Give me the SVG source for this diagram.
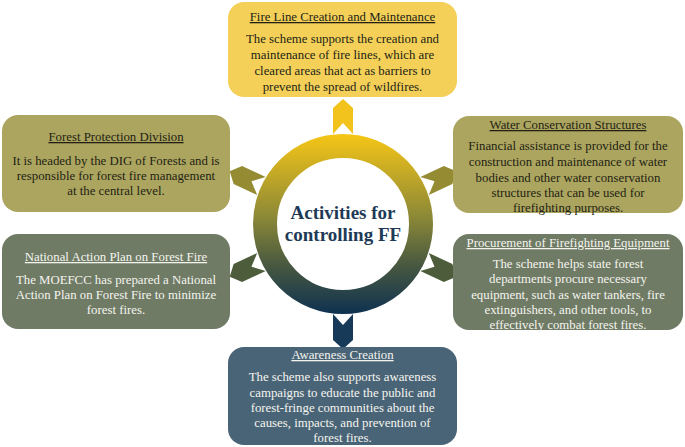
<svg xmlns="http://www.w3.org/2000/svg" width="685" height="447" viewBox="0 0 685 447">
<defs>
<linearGradient id="ringGrad" gradientUnits="userSpaceOnUse" x1="0" y1="134" x2="0" y2="314">
<stop offset="0" stop-color="#f6c616"/>
<stop offset="0.45" stop-color="#8e8a36"/>
<stop offset="0.72" stop-color="#4a5a40"/>
<stop offset="1" stop-color="#0e3150"/>
</linearGradient>
<path id="chev" d="M-10,-90 L0,-101 L10,-90 L10,-116 L0,-125 L-10,-116 Z"/>
</defs>
<style>
.box{stroke:none}
.t{font-family:"Liberation Serif","Times New Roman",serif;font-size:12.8px;text-anchor:middle}
.h{text-decoration:underline}
.dk{fill:#231f14}
.lt{fill:#f4f4ee}
.ctr{font-family:"Liberation Serif","Times New Roman",serif;font-size:19px;font-weight:bold;fill:#1e3a56;text-anchor:middle}
</style>
<rect width="685" height="447" fill="#ffffff"/>
<g id="connectors">
<use href="#chev" transform="translate(343,224)" fill="#f2c31c"/>
<use href="#chev" transform="translate(343,224) rotate(-65)" fill="#948b33"/>
<use href="#chev" transform="translate(343,224) rotate(65)" fill="#948b33"/>
<use href="#chev" transform="translate(343,224) rotate(-115)" fill="#4d5d3b"/>
<use href="#chev" transform="translate(343,224) rotate(115)" fill="#4d5d3b"/>
<use href="#chev" transform="translate(343,224) rotate(180)" fill="#173a58"/>
</g>
<g id="center">
<circle cx="343" cy="224" r="78" fill="#ffffff" stroke="url(#ringGrad)" stroke-width="24"/>
<text class="ctr" x="343" y="219">Activities for</text>
<text class="ctr" x="343" y="241">controlling FF</text>
</g>
<g id="fire-line">
<rect class="box" x="228" y="2" width="229" height="95" rx="16" fill="#f4d059"/>
<text class="t dk h" x="342.5" y="21">Fire Line Creation and Maintenance</text>
<text class="t dk" x="342.5" y="43">The scheme supports the creation and</text>
<text class="t dk" x="342.5" y="59">maintenance of fire lines, which are</text>
<text class="t dk" x="342.5" y="75">cleared areas that act as barriers to</text>
<text class="t dk" x="342.5" y="91">prevent the spread of wildfires.</text>
</g>
<g id="forest-protection">
<rect class="box" x="2" y="115" width="228" height="97" rx="16" fill="#aca55f"/>
<text class="t dk h" x="116" y="141">Forest Protection Division</text>
<text class="t dk" x="116" y="164.5">It is headed by the DIG of Forests and is</text>
<text class="t dk" x="116" y="180">responsible for forest fire management</text>
<text class="t dk" x="116" y="195">at the central level.</text>
</g>
<g id="water-conservation">
<rect class="box" x="453" y="116" width="230" height="97" rx="16" fill="#aca55f"/>
<text class="t dk h" x="568" y="129">Water Conservation Structures</text>
<text class="t dk" x="568" y="150">Financial assistance is provided for the</text>
<text class="t dk" x="568" y="166">construction and maintenance of water</text>
<text class="t dk" x="568" y="182">bodies and other water conservation</text>
<text class="t dk" x="568" y="197">structures that can be used for</text>
<text class="t dk" x="568" y="212">firefighting purposes.</text>
</g>
<g id="national-action-plan">
<rect class="box" x="2" y="234" width="228" height="95" rx="16" fill="#6f7b65"/>
<text class="t lt h" x="116" y="261">National Action Plan on Forest Fire</text>
<text class="t lt" x="116" y="284">The MOEFCC has prepared a National</text>
<text class="t lt" x="116" y="299">Action Plan on Forest Fire to minimize</text>
<text class="t lt" x="116" y="314">forest fires.</text>
</g>
<g id="procurement">
<rect class="box" x="453" y="234" width="230" height="96" rx="16" fill="#6f7b65"/>
<text class="t lt h" x="568" y="247">Procurement of Firefighting Equipment</text>
<text class="t lt" x="568" y="268">The scheme helps state forest</text>
<text class="t lt" x="568" y="283">departments procure necessary</text>
<text class="t lt" x="568" y="299">equipment, such as water tankers, fire</text>
<text class="t lt" x="568" y="314">extinguishers, and other tools, to</text>
<text class="t lt" x="568" y="329">effectively combat forest fires.</text>
</g>
<g id="awareness">
<rect class="box" x="228" y="347" width="229" height="98" rx="16" fill="#4a6477"/>
<text class="t lt h" x="342.5" y="359">Awareness Creation</text>
<text class="t lt" x="342.5" y="381">The scheme also supports awareness</text>
<text class="t lt" x="342.5" y="397">campaigns to educate the public and</text>
<text class="t lt" x="342.5" y="412">forest-fringe communities about the</text>
<text class="t lt" x="342.5" y="427">causes, impacts, and prevention of</text>
<text class="t lt" x="342.5" y="442">forest fires.</text>
</g>
</svg>
